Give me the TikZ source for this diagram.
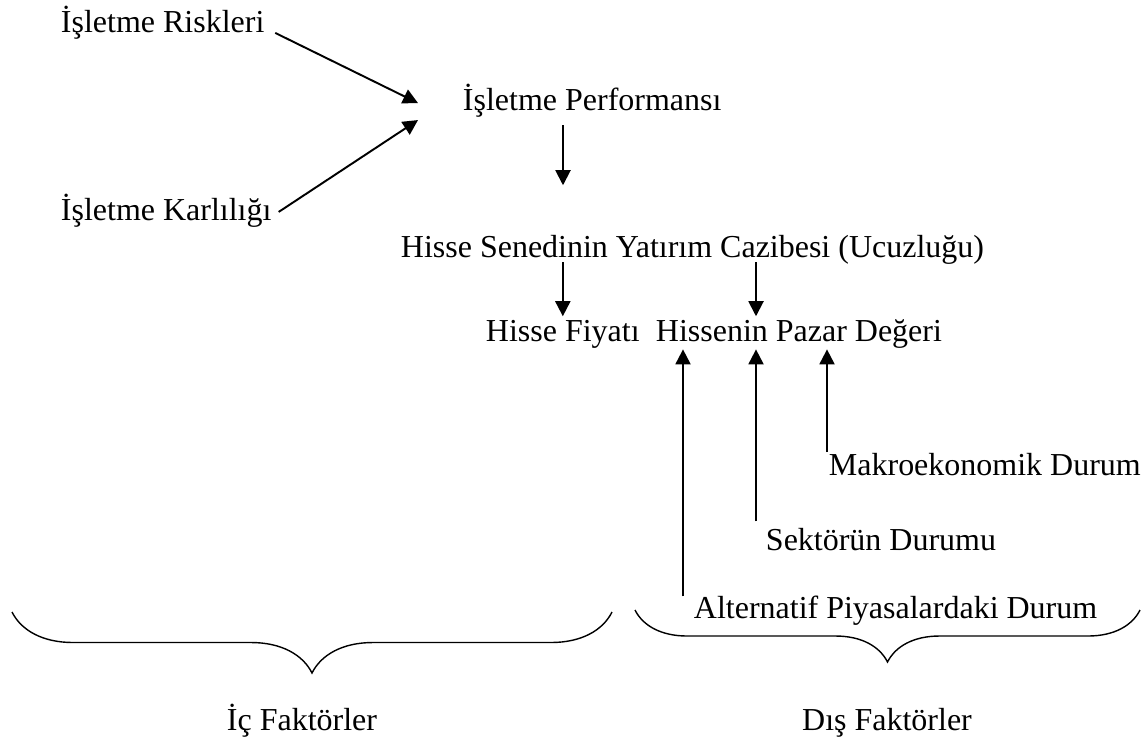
\documentclass[tikz,border=0pt]{standalone}
\usepackage{fontspec}
\setmainfont{Liberation Serif}
\usetikzlibrary{arrows.meta,decorations.pathreplacing}

\begin{document}
\begin{tikzpicture}[
    font=\fontsize{18.2}{21.8}\selectfont,
    line width=1.1pt,
    txt/.style={inner sep=0pt,text height=0.7em,text depth=0.25em},
    arrow/.style={-{Triangle[length=3mm,width=3mm]}},
    factor/.style={decorate,line width=0.8pt,
        decoration={brace,mirror,amplitude=#1}}
]
\useasboundingbox (0,0) rectangle (22.9,-14.88);

% Performance
\node[txt,anchor=base west] (risk) at (1.2,-0.64)
    {İşletme Riskleri};

\node[txt,anchor=base west] (profit) at (1.2,-4.4)
    {İşletme Karlılığı};

\node[txt,anchor=base west] (perf) at (9.24,-2.2)
    {İşletme Performansı};

\draw[arrow,shorten <=0.22cm]
    (risk.east) -- ([xshift=-0.88cm,yshift=0.06cm]perf.west);

\draw[arrow,shorten <=0.15cm]
    (profit.east) -- ([xshift=-0.88cm,yshift=-0.28cm]perf.west);

% Columns of the vertical arrows
\coordinate (colP) at (11.26,0);
\coordinate (colA) at (13.66,0);
\coordinate (colB) at (15.12,0);
\coordinate (colC) at (16.54,0);

% Appeal of the share
\node[txt,anchor=base west] (appeal) at (8.0,-5.14)
    {Hisse Senedinin Yatırım Cazibesi (Ucuzluğu)};

\draw[arrow,shorten <=0.2cm,shorten >=1.17cm]
    (perf.south -| colP) -- (appeal.north -| colP);

\node[txt,anchor=base west] (price) at (9.7,-6.82)
    {Hisse Fiyatı};

\node[txt,anchor=base west] (value) at (13.1,-6.82)
    {Hissenin Pazar Değeri};

\draw[arrow,shorten >=0.23cm]
    (appeal.south -| price.north) -- (price.north);

\draw[arrow,shorten >=0.23cm]
    (appeal.south -| colB) -- (value.north -| colB);

% External factors
\node[txt,anchor=base west] (macro) at (16.56,-9.5)
    {Makroekonomik Durum};

\node[txt,anchor=base west] (sector) at (15.3,-11.0)
    {Sektörün Durumu};

\node[txt,anchor=base west] (market) at (13.86,-12.36)
    {Alternatif Piyasalardaki Durum};

\draw[arrow,shorten <=0.19cm,shorten >=0.06cm]
    (macro.north -| colC) -- (value.south -| colC);

\draw[arrow,shorten <=0.31cm,shorten >=0.06cm]
    (sector.north -| colB) -- (value.south -| colB);

\draw[arrow,shorten <=0.17cm,shorten >=0.06cm]
    (market.north -| colA) -- (value.south -| colA);

% Braces
\coordinate (inL) at (0.24,-12.24);
\coordinate (inR) at (12.24,-12.24);
\coordinate (outL) at (12.7,-12.2);
\coordinate (outR) at (22.8,-12.2);

\draw[factor=1.22cm] (inL) -- (inR);
\draw[factor=1.04cm] (outL) -- (outR);

\node[txt,anchor=base] (inner) at (6.04,-14.6)
    {İç Faktörler};

\node[txt,anchor=base] (outer) at (17.74,-14.6)
    {Dış Faktörler};

\end{tikzpicture}
\end{document}
